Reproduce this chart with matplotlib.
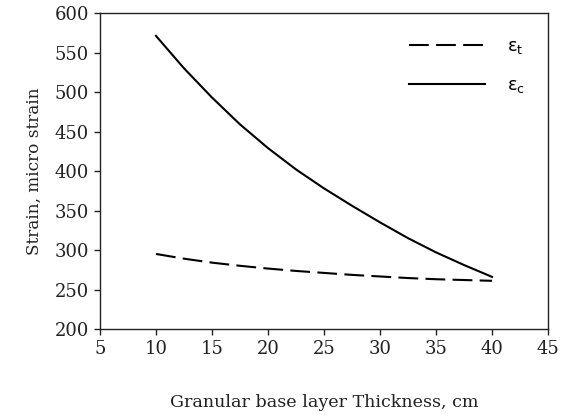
import matplotlib.pyplot as plt

thickness = [10, 12.5, 15, 17.5, 20, 22.5, 25, 27.5, 30, 32.5, 35, 37.5, 40]
strain_t = [295, 289, 284, 280, 276.5, 273.5, 271, 268.5, 266.5, 264.5, 263, 262, 261]
strain_c = [571, 530, 493, 459, 429, 402, 378, 356, 335, 315, 297, 281, 266]

plt.rcParams['font.family'] = 'DejaVu Serif'

W, H = 561, 415
fig = plt.figure(figsize=(W / 100, H / 100), dpi=100)
ax = fig.add_axes([100 / W, 1 - 329 / H, 448 / W, 316 / H])

ax.plot(thickness, strain_t, color='black', lw=1.5, ls=(0, (9.5, 3.5)), label=r'$\mathregular{\varepsilon_t}$')
ax.plot(thickness, strain_c, color='black', lw=1.5, label=r'$\mathregular{\varepsilon_c}$')

ax.set_xlim(5, 45)
ax.set_ylim(200, 600)
ax.set_xticks(range(5, 50, 5))
ax.set_yticks(range(200, 650, 50))
ax.tick_params(direction='out', length=4, width=1, labelsize=13, colors='#222222', pad=4)
for s in ax.spines.values():
    s.set_linewidth(1.0)
    s.set_color('#222222')

ax.set_xlabel('Granular base layer Thickness, cm', fontsize=12.6, labelpad=26, color='#222222')
ax.set_ylabel('Strain, micro strain', fontsize=12.2, labelpad=8, color='#222222')

leg = ax.legend(loc='upper right', frameon=False, handlelength=4.2, handletextpad=1.2,
                bbox_to_anchor=(0.985, 0.975), labelspacing=1.1,
                prop={'family': 'DejaVu Sans', 'size': 13})

fig.savefig('out.png', dpi=100)
